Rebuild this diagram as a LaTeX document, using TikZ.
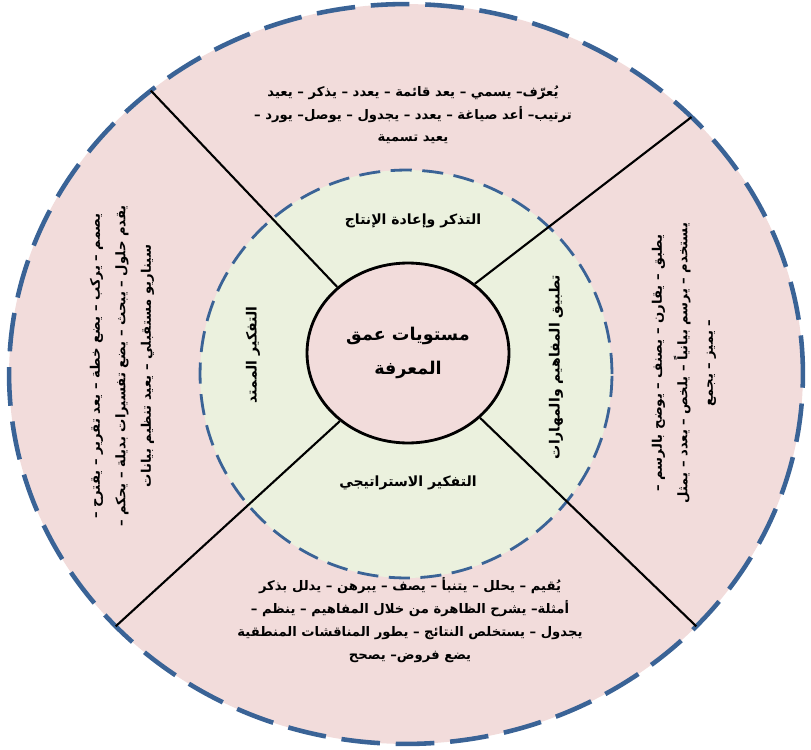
\documentclass[tikz,border=0pt]{standalone}
\usepackage{fontspec}
\newfontfamily\arabicfont[Script=Arabic]{DejaVu Sans}
\TeXXeTstate=1
\usetikzlibrary{shapes.geometric,calc}

\definecolor{ringpink}{HTML}{F2DCDB}
\definecolor{ringgreen}{HTML}{EBF1DE}
\definecolor{ringblue}{HTML}{3A6396}

\tikzset{
  verbs/.style={font=\arabicfont\bfseries\fontsize{7.5}{13}\selectfont, align=center, inner sep=0pt},
  sideverbs/.style={verbs, rotate=90, font=\arabicfont\bfseries\fontsize{7.5}{14.5}\selectfont},
  level/.style={font=\arabicfont\bfseries\fontsize{8}{10}\selectfont, inner sep=0pt},
  divider/.style={draw=black, line width=1.2pt},
}

\begin{document}
\begin{tikzpicture}[x=0.02cm,y=-0.02cm]
\useasboundingbox (0,0) rectangle (811,750);
% rings
\coordinate (hub) at (406,374);
\filldraw[fill=ringpink,draw=ringblue,line width=2.6pt,dash pattern=on 22pt off 9pt] (hub) ellipse [x radius=7.94cm, y radius=7.4cm];
\filldraw[fill=ringgreen,draw=ringblue,line width=1.6pt,dash pattern=on 12pt off 6pt] (hub) ellipse [x radius=4.12cm, y radius=4.08cm];
\node[ellipse,draw=black,line width=1.6pt,fill=ringpink,minimum width=4.04cm,minimum height=3.6cm,inner sep=0pt,align=center,
  font=\arabicfont\bfseries\fontsize{10}{19}\selectfont] (core) at (408,353)
  {\beginR مستويات عمق\endR\\ \beginR المعرفة\endR};
% dividers
\coordinate (tl) at ($(hub)+(130:7.94cm and 7.4cm)$);
\coordinate (tr) at ($(hub)+(44:7.94cm and 7.4cm)$);
\coordinate (br) at ($(hub)+(-43:7.94cm and 7.4cm)$);
\coordinate (bl) at ($(hub)+(223:7.94cm and 7.4cm)$);
\draw[divider] (core.137) -- (tl);
\draw[divider] (core.46) -- (tr);
\draw[divider] (core.-42) -- (br);
\draw[divider] (core.225) -- (bl);
% level names
\node[level] (recall) at (413,221) {\beginR التذكر وإعادة الإنتاج\endR};
\node[level,rotate=90] (skills) at (556,367) {\beginR تطبيق المفاهيم والمهارات\endR};
\node[level,rotate=90] (extended) at (253,355) {\beginR التفكير الممتد\endR};
\node[level] (strategic) at (408,483) {\beginR التفكير الاستراتيجي\endR};
% verbs
\node[verbs] (recallverbs) at (413,115) {%
  \beginR يُعرّف– يسمي – يعد قائمة – يعدد – يذكر – يعيد\endR\\
  \beginR ترتيب– أعد صياغة – يعدد – يجدول – يوصل– يورد –\endR\\
  \beginR يعيد تسمية\endR};
\node[sideverbs] (skillsverbs) at (684,363) {%
  \beginR يطبق – يقارن – يصنف – يوضح بالرسم –\endR\\
  \beginR يستخدم – يرسم بيانياً – يلخص – يعدد – يمثل\endR\\
  \beginR – يميز – يجمع\endR};
\node[sideverbs] (extendedverbs) at (122,366) {%
  \beginR يصمم – يركب – يضع خطة – يعد تقرير – يقترح –\endR\\
  \beginR يقدم حلول – يبحث – يضع تفسيرات بديلة – يحكم –\endR\\
  \beginR سيناريو مستقبلي – يعيد تنظيم بيانات\endR};
\node[verbs] (strategicverbs) at (410,620) {%
  \beginR يُقيم – يحلل – يتنبأ – يصف – يبرهن – يدلل بذكر\endR\\
  \beginR أمثلة– يشرح الظاهرة من خلال المفاهيم – ينظم –\endR\\
  \beginR يجدول – يستخلص النتائج – يطور المناقشات المنطقية\endR\\
  \beginR يضع فروض– يصحح\endR};
\end{tikzpicture}
\end{document}
